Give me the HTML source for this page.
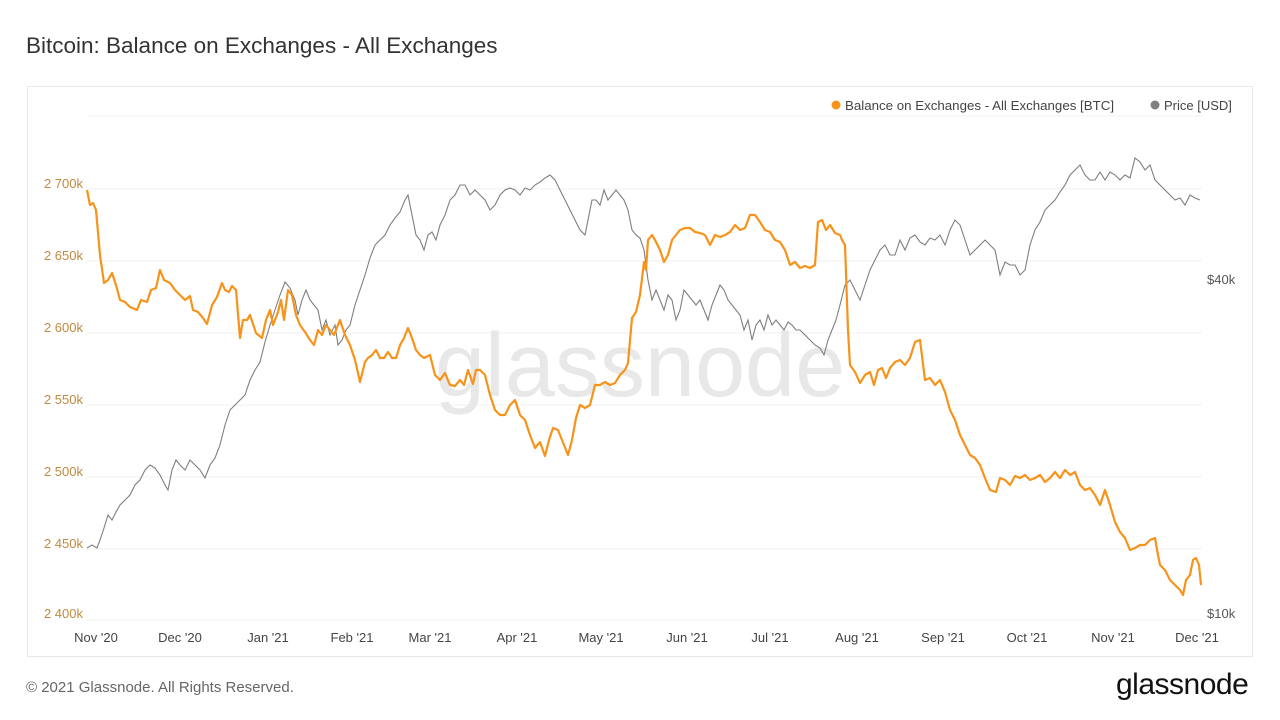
<!DOCTYPE html>
<html><head><meta charset="utf-8"><style>
body{margin:0;width:1280px;height:720px;background:#fff;font-family:"Liberation Sans",sans-serif;overflow:hidden;position:relative}
.t{position:absolute;white-space:nowrap}
</style></head><body>
<div class="t" style="left:26px;top:33px;font-size:22.5px;color:#333">Bitcoin: Balance on Exchanges - All Exchanges</div>
<div style="position:absolute;left:27px;top:86px;width:1226px;height:571px;border:1px solid #e8e8e8;box-sizing:border-box"></div>
<svg width="1280" height="720" style="position:absolute;left:0;top:0">
<g stroke="#f0f0f0" stroke-width="1">
<line x1="87" y1="116" x2="1202" y2="116"/><line x1="87" y1="189" x2="1202" y2="189"/><line x1="87" y1="261" x2="1202" y2="261"/><line x1="87" y1="333" x2="1202" y2="333"/><line x1="87" y1="405" x2="1202" y2="405"/><line x1="87" y1="477" x2="1202" y2="477"/><line x1="87" y1="549" x2="1202" y2="549"/><line x1="87" y1="620" x2="1202" y2="620"/>
</g>
<text x="640" y="396" text-anchor="middle" font-family="Liberation Sans,sans-serif" font-size="90" fill="#e8e8e8">glassnode</text>
<g font-family="Liberation Sans,sans-serif" font-size="13" fill="#c08a3e" text-anchor="end">
<text x="83" y="188">2 700k</text><text x="83" y="260">2 650k</text><text x="83" y="332">2 600k</text><text x="83" y="404">2 550k</text><text x="83" y="476">2 500k</text><text x="83" y="548">2 450k</text><text x="83" y="618">2 400k</text>
</g>
<g font-family="Liberation Sans,sans-serif" font-size="13" fill="#555">
<text x="1207" y="284">$40k</text><text x="1207" y="618">$10k</text>
</g>
<g font-family="Liberation Sans,sans-serif" font-size="13" fill="#444" text-anchor="middle">
<text x="96" y="642">Nov '20</text><text x="180" y="642">Dec '20</text><text x="268" y="642">Jan '21</text><text x="352" y="642">Feb '21</text><text x="430" y="642">Mar '21</text><text x="517" y="642">Apr '21</text><text x="601" y="642">May '21</text><text x="687" y="642">Jun '21</text><text x="770" y="642">Jul '21</text><text x="857" y="642">Aug '21</text><text x="943" y="642">Sep '21</text><text x="1027" y="642">Oct '21</text><text x="1113" y="642">Nov '21</text><text x="1197" y="642">Dec '21</text>
</g>
<circle cx="836" cy="105" r="4.5" fill="#f7931a"/>
<text x="845" y="110" font-family="Liberation Sans,sans-serif" font-size="13.3" fill="#444">Balance on Exchanges - All Exchanges [BTC]</text>
<circle cx="1155" cy="105" r="4.5" fill="#808080"/>
<text x="1164" y="110" font-family="Liberation Sans,sans-serif" font-size="13" fill="#444">Price [USD]</text>
<polyline fill="none" stroke="#7f7f7f" stroke-width="1.1" points="87,548 92,545 97,548 100,540 104,528 108,515 112,520 116,512 120,505 125,500 130,495 135,485 140,480 145,470 150,465 155,468 160,475 165,485 168,490 172,470 176,460 180,465 185,470 190,460 195,465 200,470 205,478 210,465 215,458 220,445 225,425 230,410 235,405 240,400 245,395 250,380 255,370 260,362 265,342 270,325 275,310 280,295 285,282 290,288 295,300 298,315 302,300 306,290 310,300 314,305 318,310 322,330 326,320 330,335 335,325 338,345 342,340 346,330 350,325 355,305 360,290 365,275 370,258 375,245 380,240 385,235 390,225 395,218 400,212 405,200 408,195 412,215 416,235 420,240 424,250 428,235 432,232 436,240 440,225 445,215 450,200 455,195 460,185 465,185 470,195 475,190 480,195 485,200 490,210 495,205 500,195 505,190 510,188 515,190 520,195 525,188 530,190 535,185 540,182 545,178 550,175 555,180 560,190 565,200 570,210 575,220 580,230 585,235 588,220 592,200 596,200 600,205 604,190 608,200 612,195 616,190 620,195 624,200 628,210 632,230 636,235 640,238 644,250 648,280 652,300 656,290 660,300 664,310 668,295 672,300 676,320 680,310 684,290 688,295 692,300 696,305 700,300 704,310 708,320 712,305 716,295 720,285 724,290 728,300 732,305 736,310 740,315 744,330 748,320 752,340 756,325 760,320 764,330 768,315 772,325 776,320 780,325 784,330 788,322 792,325 796,330 800,330 805,335 810,340 815,345 820,348 824,355 828,340 832,330 836,320 840,305 845,285 850,280 855,290 860,300 865,285 870,270 875,260 880,250 885,245 890,255 895,255 900,240 905,250 910,238 915,235 920,242 925,245 930,238 935,240 940,235 945,245 950,230 955,220 960,225 965,240 970,255 975,250 980,245 985,240 990,245 995,250 1000,275 1005,262 1010,265 1015,265 1020,275 1025,270 1030,245 1035,230 1040,222 1045,210 1050,205 1055,200 1060,192 1065,185 1070,175 1075,170 1080,165 1085,175 1090,180 1095,180 1100,172 1105,180 1110,172 1115,175 1120,180 1125,175 1130,178 1135,158 1140,162 1145,170 1150,165 1155,180 1160,185 1165,190 1170,195 1175,200 1180,198 1185,205 1190,195 1195,198 1200,200"/>
<polyline fill="none" stroke="#f7931a" stroke-width="2.2" stroke-linejoin="round" points="87,190 90,205 93,203 96,210 100,255 104,283 108,280 112,273 116,285 120,300 125,302 130,307 137,310 141,300 147,302 151,290 156,288 160,270 164,280 170,283 175,290 180,295 185,300 190,296 193,310 198,312 203,318 207,324 212,305 217,297 222,283 225,290 229,292 232,286 236,290 240,338 243,320 247,320 250,315 256,333 262,338 266,320 270,310 273,325 278,312 281,300 284,320 288,290 292,295 296,315 300,325 305,332 310,340 314,345 318,330 322,335 326,325 330,330 334,335 340,320 345,335 350,345 355,360 360,382 365,362 368,358 372,355 376,350 380,358 384,358 388,352 392,358 396,358 400,345 404,338 408,328 412,338 416,350 420,355 424,358 430,355 435,375 440,380 445,373 450,385 455,386 460,380 464,385 468,370 473,384 476,370 480,370 485,375 490,395 495,410 500,415 505,415 510,405 515,400 520,415 525,420 530,435 535,448 540,442 545,456 549,440 553,428 558,430 562,440 568,455 572,440 576,418 580,405 585,408 590,405 595,385 600,385 605,382 610,385 615,383 620,375 625,370 628,363 632,318 636,312 640,295 644,262 646,270 648,240 652,235 655,240 660,250 664,262 668,255 672,240 676,235 680,230 685,228 690,228 695,232 700,233 705,235 710,245 715,235 720,237 725,235 730,232 735,225 740,230 745,228 750,215 755,215 760,222 765,230 770,232 775,240 780,242 785,250 790,265 795,262 800,268 805,266 810,268 815,265 818,222 822,220 826,230 830,225 835,233 840,235 842,240 845,245 848,330 850,365 855,372 860,383 865,375 870,372 874,385 878,370 882,368 886,378 890,368 895,362 900,360 905,365 910,358 915,342 920,340 925,380 930,378 935,385 940,380 945,392 950,410 955,420 960,435 965,445 970,455 975,458 980,465 985,478 990,490 996,492 1000,478 1005,480 1010,485 1015,476 1020,478 1025,475 1030,480 1035,478 1040,475 1045,482 1050,478 1055,472 1060,478 1065,470 1070,475 1075,472 1080,485 1085,490 1090,488 1095,495 1100,505 1105,490 1110,505 1115,522 1120,532 1125,538 1130,550 1135,548 1140,545 1145,545 1150,540 1155,538 1158,555 1160,565 1165,570 1170,580 1175,585 1180,590 1183,595 1186,580 1190,575 1193,560 1196,558 1199,565 1201,585"/>
</svg>
<div class="t" style="left:26px;top:679px;font-size:15px;color:#666">© 2021 Glassnode. All Rights Reserved.</div>
<div class="t" style="left:1116px;top:668px;font-size:30px;color:#111;letter-spacing:-0.5px">glassnode</div>
</body></html>
